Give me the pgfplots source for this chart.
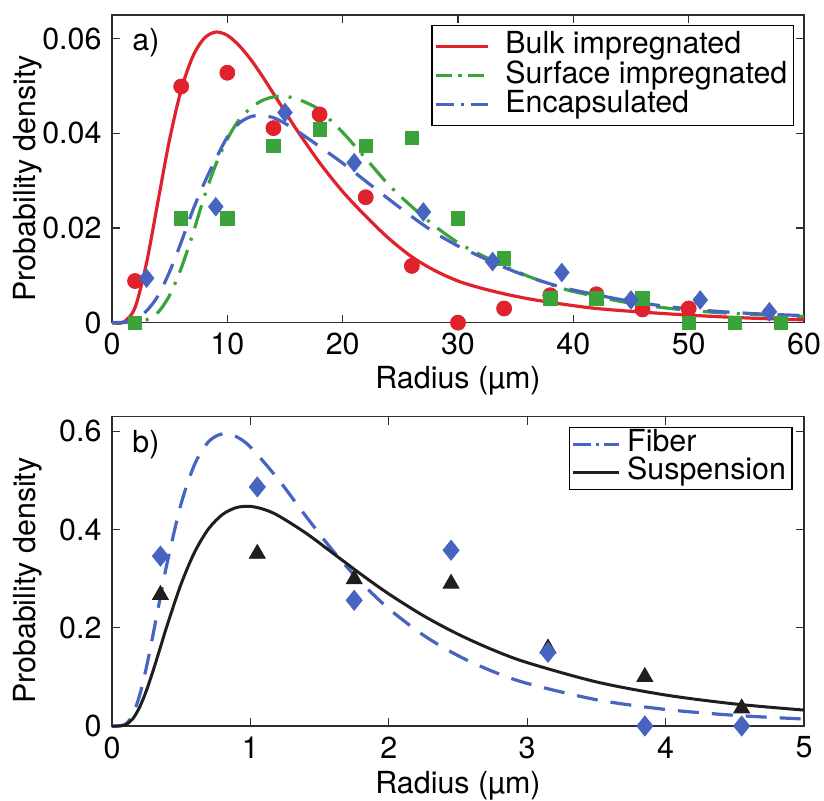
\documentclass[border=0pt]{standalone}
\usepackage{fontspec}
\setmainfont{TeX Gyre Heros}
\usepackage{pgfplots}
\pgfplotsset{compat=1.18}

\definecolor{bulkred}{HTML}{E0222C}
\definecolor{surfgreen}{HTML}{3AA43A}
\definecolor{encblue}{HTML}{4664C0}
\definecolor{axgray}{HTML}{2E2E2E}
\definecolor{suspblack}{HTML}{1E1E1E}

\pgfplotsset{
  panel/.style={
    scale only axis, width=346pt,
    xmin=0, ymin=0,
    clip=false,
    axis line style={draw=axgray, line width=0.65pt},
    tick align=inside, major tick length=4pt,
    tick style={draw=axgray, line width=0.65pt},
    /pgf/number format/assume math mode=true,
    scaled y ticks=false,
    xlabel={Radius (µm)},
    ylabel={Probability density},
    ylabel style={at={([xshift=-34.5pt]axis description cs:0,0.47)}, anchor=south, inner sep=0pt},
    legend cell align=left,
    legend style={draw=black, line width=0.65pt, fill=white, inner xsep=1pt,
      anchor=north east, at={(1,1)}, xshift=-5pt, yshift=-5pt},
  },
  leg top/.style={legend image code/.code={\draw[##1,#1] (0pt,0pt) -- (26pt,0pt);}},
  leg bot/.style={legend image code/.code={\draw[##1,#1] (0pt,0pt) -- (23pt,0pt);}},
}

\begin{document}
\fontsize{15.2}{18}\selectfont
\begin{tikzpicture}

% ---- a) ----
\begin{axis}[panel, at={(0pt,201.65pt)}, anchor=south west, height=153.85pt,
  xmax=60, ymax=0.065,
  xtick={0,10,...,60}, ytick={0,0.02,0.04,0.06}, yticklabels={0,0.02,0.04,0.06},
  xlabel style={at={([yshift=-33pt]axis description cs:0.5,0)}, anchor=base, inner sep=0pt},
  legend style={nodes={inner xsep=2pt, inner ysep=0.5pt, text height=10.6pt, text depth=3pt},
    inner ysep=3pt, column sep=6pt}]

\addplot[bulkred, line width=1.6pt, smooth, leg top={solid}] coordinates {
(0,0) (1,0.0001) (2,0.0032) (3,0.0127) (4,0.0258) (5,0.0388) (6,0.0492) (7,0.0562)
(8,0.0601) (9,0.0614) (10,0.0607) (11,0.0586) (12,0.0557) (13,0.0522) (14,0.0484)
(15,0.0446) (16,0.0408) (18,0.0338) (20,0.0277) (22,0.0225) (24,0.0178) (26,0.0139)
(28,0.0110) (30,0.0088) (32,0.0073) (34,0.0061) (36,0.0051) (38,0.0043) (40,0.0036)
(42,0.0030) (45,0.0024) (50,0.0016) (55,0.0010) (60,0.0006)};
\addlegendentry{Bulk impregnated}

\addplot[surfgreen, line width=1.6pt, smooth, dash pattern=on 12pt off 5pt on 1.5pt off 5pt,
  leg top={dash pattern=on 8pt off 3pt on 2pt off 3pt}] coordinates {
(0,0) (2,0.0001) (3,0.0006) (4,0.0022) (5,0.0058) (6,0.0115) (7,0.0187) (8,0.0266)
(9,0.0334) (10,0.0388) (11,0.0428) (12,0.0453) (13,0.0469) (14,0.0477) (15,0.0478)
(16,0.0473) (17,0.0463) (18,0.0449) (20,0.0402) (22,0.0347) (24,0.0291) (26,0.0245)
(28,0.0204) (30,0.0169) (32,0.0143) (34,0.0120) (36,0.0099) (38,0.0081) (40,0.0066)
(45,0.0041) (50,0.0026) (55,0.0018) (60,0.0013)};
\addlegendentry{Surface impregnated}

\addplot[encblue, line width=1.6pt, smooth, dash pattern=on 11pt off 6.5pt,
  leg top={dash pattern=on 9pt off 3.5pt on 1.5pt off 3.5pt}] coordinates {
(0,0) (1,0.0001) (2,0.0006) (3,0.0025) (4,0.0057) (5,0.0108) (6,0.0170) (7,0.0237)
(8,0.0295) (9,0.0346) (10,0.0392) (11,0.0421) (12,0.0435) (13,0.0438) (14,0.0433)
(15,0.0421) (16,0.0406) (18,0.0372) (20,0.0337) (22,0.0299) (24,0.0261) (26,0.0224)
(28,0.0190) (30,0.0162) (32,0.0139) (34,0.0117) (36,0.0098) (38,0.0082) (40,0.0069)
(45,0.0045) (50,0.0029) (55,0.0020) (60,0.0015)};
\addlegendentry{Encapsulated}

\addplot[only marks, forget plot, mark=*, mark size=3.75pt, bulkred] coordinates {
(2,0.0088) (6,0.0499) (10,0.0528) (14,0.0411) (18,0.0440) (22,0.0265) (26,0.0120)
(30,0) (34,0.0030) (38,0.0058) (42,0.0060) (46,0.0028) (50,0.0030)};
\addplot[only marks, forget plot, mark=square*, mark size=3.33pt, surfgreen] coordinates {
(2,0) (6,0.0220) (10,0.0220) (14,0.0373) (18,0.0408) (22,0.0373) (26,0.0391)
(30,0.0220) (34,0.0136) (38,0.0051) (42,0.0051) (46,0.0051) (50,0) (54,0) (58,0)};
\addplot[only marks, forget plot, mark=diamond*, mark size=4.6pt, mark options={xscale=1.05}, encblue] coordinates {
(3,0.0094) (9,0.0245) (15,0.0444) (21,0.0338) (27,0.0234) (33,0.0129) (39,0.0106)
(45,0.0048) (51,0.0048) (57,0.0023)};

\node[anchor=north west, inner sep=0pt] at ([xshift=10pt,yshift=-6.5pt]axis description cs:0,1) {a)};
\end{axis}

% ---- b) ----
\begin{axis}[panel, at={(0pt,0pt)}, anchor=south west, height=154.65pt,
  xmax=5, ymax=0.63,
  xtick={0,1,...,5}, ytick={0,0.2,0.4,0.6}, yticklabels={0,0.2,0.4,0.6},
  xlabel style={at={([yshift=-34pt]axis description cs:0.5,0)}, anchor=base, inner sep=0pt},
  legend style={xshift=-0.65pt, nodes={inner xsep=2pt, inner ysep=0.3pt, text height=10.3pt, text depth=3pt},
    inner ysep=1.7pt, column sep=1.3pt}]

\addplot[encblue, line width=1.6pt, smooth, dash pattern=on 10.5pt off 6.5pt,
  leg bot={dash pattern=on 9pt off 2.5pt on 1.5pt off 2.5pt}] coordinates {
(0,0) (0.05,0.0001) (0.1,0.0040) (0.15,0.0229) (0.2,0.0629) (0.25,0.1214) (0.3,0.1909)
(0.35,0.2637) (0.4,0.3341) (0.5,0.4534) (0.6,0.5348) (0.7,0.5798) (0.8,0.5952)
(0.9,0.5890) (1.0,0.5682) (1.2,0.5029) (1.4,0.4276) (1.6,0.3557) (1.8,0.2924)
(2.0,0.2389) (2.25,0.1850) (2.5,0.1433) (2.75,0.1113) (3.0,0.0868) (3.5,0.0535)
(4.0,0.0337) (4.5,0.0217) (5.0,0.0142)};
\addlegendentry{Fiber}

\addplot[suspblack, line width=1.5pt, smooth, leg bot={solid}] coordinates {
(0,0) (0.05,0.0001) (0.1,0.0028) (0.15,0.0145) (0.2,0.0385) (0.25,0.0732) (0.3,0.1152)
(0.35,0.1606) (0.4,0.2063) (0.5,0.2898) (0.6,0.3559) (0.7,0.4025) (0.8,0.4311)
(0.9,0.4450) (1.0,0.4473) (1.1,0.4410) (1.2,0.4287) (1.4,0.3931) (1.6,0.3512)
(1.8,0.3089) (2.0,0.2690) (2.25,0.2247) (2.5,0.1870) (2.75,0.1553) (3.0,0.1291)
(3.5,0.0898) (4.0,0.0631) (4.5,0.0449) (5.0,0.0324)};
\addlegendentry{Suspension}

\addplot[only marks, forget plot, mark=triangle*, mark size=4.6pt, suspblack] coordinates {
(0.35,0.267) (1.05,0.351) (1.75,0.299) (2.45,0.290) (3.15,0.158) (3.85,0.100) (4.55,0.036)};
\addplot[only marks, forget plot, mark=diamond*, mark size=5pt, mark options={xscale=1.07}, encblue] coordinates {
(0.35,0.346) (1.05,0.487) (1.75,0.256) (2.45,0.358) (3.15,0.150) (3.85,0) (4.55,0)};

\node[anchor=north west, inner sep=0pt] at ([xshift=10pt,yshift=-6.5pt]axis description cs:0,1) {b)};
\end{axis}

\pgfresetboundingbox
\path (-56pt,-37.5pt) rectangle (356pt,363pt);
\end{tikzpicture}
\end{document}
